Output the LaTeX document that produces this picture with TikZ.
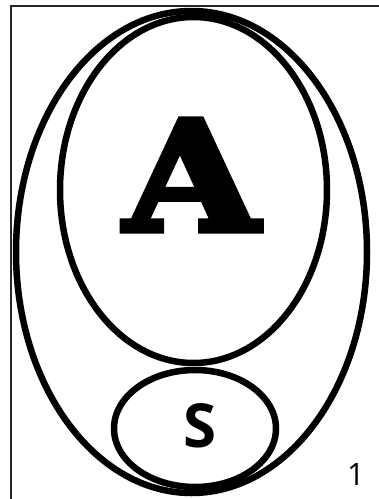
\documentclass[tikz,border=0pt]{standalone}
\usepackage{fontspec}
\usepackage{graphicx}
\setmainfont{DejaVu Serif}
\newfontfamily\heavyfnt[FakeBold=4]{DejaVu Serif}
\newfontfamily\sfnt{Open Sans}
\begin{document}
\begin{tikzpicture}[x=1pt,y=-1pt,
  ring/.style={draw=black,line width=6.5pt},
  frameline/.style={draw=black!85,line width=2pt}]
\useasboundingbox (0,0) rectangle (379,499);
% frame (top and left edges)
\draw[frameline] (11,499) -- (11,6) -- (379,6);
% ellipses
\draw[ring] (191.5,252) ellipse (175.5 and 241);
\draw[ring] (193.5,190) ellipse (133.5 and 173);
\draw[ring] (195,428.5) ellipse (81 and 58.5);
% labels
\node[inner sep=0pt] (A) at (191.5,175) {\resizebox{134pt}{111pt}{\heavyfnt\bfseries A}};
\node[inner sep=0pt] (S) at (200,426) {\resizebox{33pt}{44pt}{\sfnt\bfseries S}};
\node[inner sep=0pt] (one) at (356,474) {\resizebox{!}{22pt}{\sfnt 1}};
\end{tikzpicture}
\end{document}
